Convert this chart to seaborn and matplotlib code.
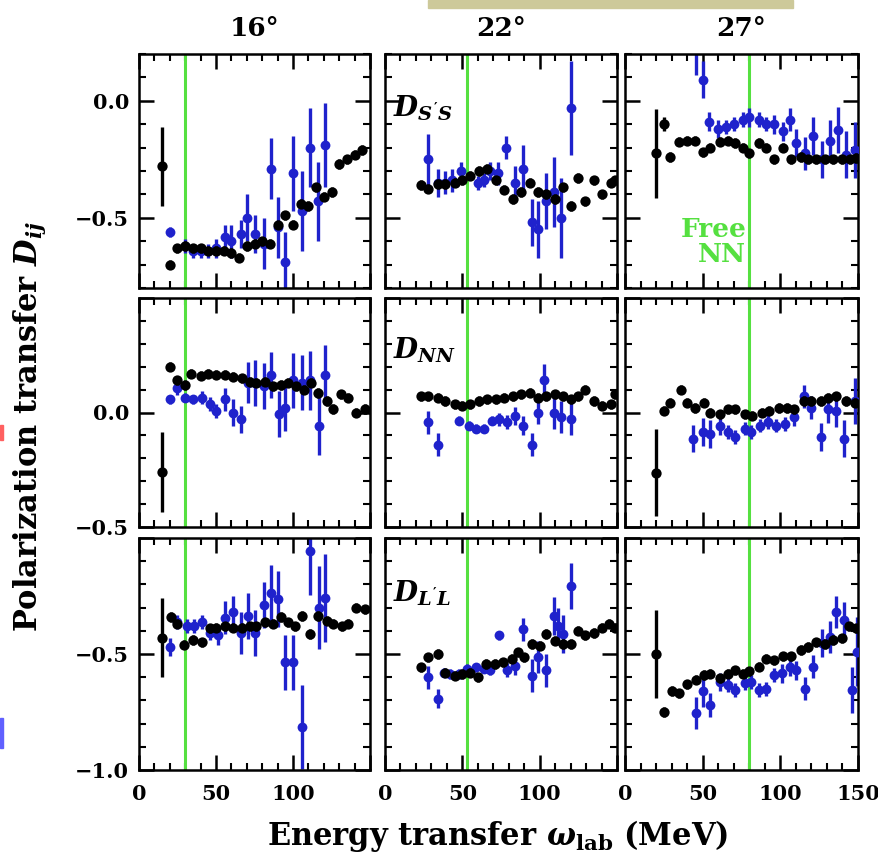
import numpy as np
import pandas as pd
import matplotlib
matplotlib.use("Agg")
import matplotlib.pyplot as plt
import seaborn as sns
from matplotlib.ticker import MultipleLocator, FixedLocator, FixedFormatter
from matplotlib.patches import Rectangle

# ---------------- data ----------------
angles = ["16°", "22°", "27°"]
observables = ["$D_{S'S}$", "$D_{NN}$", "$D_{L'L}$"]
free_nn_omega = [30, 53, 80]

# D_S'S
ss16_black_x = [15, 20, 25, 30, 35, 40, 45, 50, 55, 60, 65, 70, 75, 80, 85, 90, 95, 100, 105, 110, 115, 120, 125, 130, 135, 140, 145]
ss16_black_y = [-0.28, -0.70, -0.63, -0.62, -0.63, -0.63, -0.64, -0.64, -0.64, -0.65, -0.67, -0.62, -0.61, -0.60, -0.61, -0.53, -0.49, -0.53, -0.44, -0.45, -0.37, -0.41, -0.39, -0.27, -0.25, -0.23, -0.21]
ss16_black_e = [0.17, 0.02, 0.02, 0.02, 0.02, 0.02, 0.02, 0.02, 0.02, 0.02, 0.02, 0.02, 0.02, 0.02, 0.02, 0.02, 0.02, 0.02, 0.02, 0.02, 0.02, 0.02, 0.02, 0.02, 0.02, 0.02, 0.02]
ss16_blue_x = [20, 30, 35, 40, 45, 50, 56, 60, 66, 70, 75, 81, 86, 90, 95, 100, 106, 111, 116, 121]
ss16_blue_y = [-0.56, -0.62, -0.64, -0.64, -0.64, -0.63, -0.58, -0.60, -0.57, -0.50, -0.57, -0.61, -0.29, -0.54, -0.69, -0.31, -0.47, -0.20, -0.43, -0.19]
ss16_blue_e = [0.02, 0.03, 0.03, 0.03, 0.03, 0.04, 0.05, 0.07, 0.06, 0.10, 0.08, 0.11, 0.13, 0.13, 0.13, 0.16, 0.17, 0.17, 0.17, 0.18]

ss22_black_x = [23, 28, 34, 39, 45, 50, 55, 61, 66, 72, 77, 83, 88, 94, 99, 104, 110, 115, 120, 125, 129, 135, 140, 146, 149]
ss22_black_y = [-0.36, -0.375, -0.355, -0.355, -0.35, -0.34, -0.32, -0.30, -0.29, -0.34, -0.38, -0.42, -0.39, -0.35, -0.39, -0.40, -0.42, -0.37, -0.45, -0.33, -0.43, -0.34, -0.40, -0.35, -0.34]
ss22_black_e = [0.02, 0.02, 0.02, 0.02, 0.02, 0.02, 0.02, 0.02, 0.02, 0.02, 0.02, 0.02, 0.02, 0.02, 0.02, 0.02, 0.02, 0.02, 0.02, 0.02, 0.02, 0.02, 0.02, 0.02, 0.02]
ss22_blue_x = [28, 34, 39, 43, 49, 60, 64, 68, 73, 78, 84, 89, 95, 99, 104, 109, 114, 120]
ss22_blue_y = [-0.25, -0.35, -0.35, -0.34, -0.30, -0.35, -0.34, -0.30, -0.31, -0.20, -0.35, -0.29, -0.52, -0.55, -0.43, -0.39, -0.50, -0.03]
ss22_blue_e = [0.11, 0.06, 0.05, 0.05, 0.04, 0.03, 0.03, 0.04, 0.05, 0.05, 0.07, 0.10, 0.10, 0.12, 0.12, 0.15, 0.17, 0.20]

ss27_black_x = [20, 25, 29, 35, 40, 45, 50, 55, 61, 66, 71, 76, 80, 86, 91, 96, 102, 107, 113, 118, 123, 129, 134, 140, 145, 149]
ss27_black_y = [-0.225, -0.10, -0.24, -0.175, -0.17, -0.17, -0.22, -0.20, -0.175, -0.17, -0.18, -0.20, -0.225, -0.18, -0.20, -0.25, -0.20, -0.25, -0.24, -0.25, -0.25, -0.25, -0.25, -0.25, -0.25, -0.245]
ss27_black_e = [0.19, 0.03, 0.02, 0.02, 0.02, 0.02, 0.02, 0.02, 0.02, 0.02, 0.02, 0.02, 0.02, 0.02, 0.02, 0.02, 0.02, 0.02, 0.02, 0.02, 0.02, 0.02, 0.02, 0.02, 0.02, 0.02]
ss27_blue_x = [46, 50, 54, 60, 65, 70, 76, 80, 86, 91, 96, 102, 106, 110, 116, 121, 127, 132, 137, 142, 148]
ss27_blue_y = [0.26, 0.09, -0.09, -0.12, -0.11, -0.10, -0.08, -0.07, -0.08, -0.10, -0.10, -0.13, -0.08, -0.18, -0.225, -0.15, -0.25, -0.17, -0.125, -0.23, -0.21]
ss27_blue_e = [0.15, 0.08, 0.04, 0.04, 0.03, 0.03, 0.03, 0.04, 0.03, 0.03, 0.04, 0.04, 0.05, 0.06, 0.07, 0.08, 0.08, 0.09, 0.10, 0.10, 0.12]

# D_NN
nn16_black_x = [15, 20, 25, 30, 34, 40, 45, 50, 56, 61, 67, 72, 76, 82, 87, 92, 97, 102, 107, 112, 116, 122, 126, 131, 136, 141, 147]
nn16_black_y = [-0.26, 0.20, 0.14, 0.12, 0.17, 0.16, 0.17, 0.165, 0.165, 0.157, 0.15, 0.135, 0.13, 0.135, 0.115, 0.12, 0.13, 0.115, 0.10, 0.13, 0.085, 0.05, 0.015, 0.08, 0.065, 0.0, 0.015]
nn16_black_e = [0.175, 0.02, 0.02, 0.02, 0.02, 0.02, 0.02, 0.02, 0.02, 0.02, 0.02, 0.02, 0.02, 0.02, 0.02, 0.02, 0.02, 0.02, 0.02, 0.02, 0.02, 0.02, 0.02, 0.02, 0.02, 0.02, 0.02]
nn16_blue_x = [20, 25, 30, 35, 41, 46, 50, 56, 61, 66, 71, 75, 81, 86, 91, 95, 100, 106, 111, 117, 121]
nn16_blue_y = [0.057, 0.107, 0.065, 0.057, 0.065, 0.036, 0.007, 0.057, 0.0, -0.03, 0.13, 0.13, 0.115, 0.165, -0.007, 0.02, 0.14, 0.13, 0.14, -0.057, 0.165]
nn16_blue_e = [0.02, 0.03, 0.02, 0.02, 0.03, 0.03, 0.03, 0.05, 0.06, 0.06, 0.09, 0.10, 0.10, 0.10, 0.10, 0.10, 0.12, 0.12, 0.13, 0.13, 0.13]

nn22_black_x = [23, 28, 34, 39, 45, 50, 55, 61, 66, 72, 77, 83, 88, 94, 99, 104, 110, 115, 120, 125, 129, 135, 140, 146, 149]
nn22_black_y = [0.07, 0.07, 0.064, 0.05, 0.036, 0.03, 0.036, 0.05, 0.057, 0.057, 0.064, 0.07, 0.079, 0.086, 0.064, 0.07, 0.079, 0.07, 0.057, 0.07, 0.10, 0.05, 0.03, 0.036, 0.079]
nn22_black_e = [0.02, 0.02, 0.02, 0.02, 0.02, 0.02, 0.02, 0.02, 0.02, 0.02, 0.02, 0.02, 0.02, 0.02, 0.02, 0.02, 0.02, 0.02, 0.02, 0.02, 0.02, 0.02, 0.02, 0.02, 0.02]
nn22_blue_x = [28, 34, 48, 54, 59, 64, 69, 74, 79, 84, 89, 95, 99, 103, 109, 114, 120]
nn22_blue_y = [-0.043, -0.14, -0.036, -0.057, -0.07, -0.07, -0.036, -0.03, -0.043, -0.014, -0.057, -0.14, 0.0, 0.14, 0.0, -0.02, -0.03]
nn22_blue_e = [0.05, 0.05, 0.02, 0.02, 0.02, 0.02, 0.02, 0.03, 0.03, 0.04, 0.04, 0.05, 0.05, 0.07, 0.07, 0.07, 0.07]

nn27_black_x = [20, 25, 29, 36, 40, 45, 51, 55, 61, 66, 71, 77, 82, 88, 93, 99, 104, 109, 115, 120, 126, 131, 136, 142, 148]
nn27_black_y = [-0.264, 0.007, 0.043, 0.10, 0.043, 0.02, 0.043, 0.0, -0.007, 0.014, 0.014, -0.007, -0.014, 0.0, 0.007, 0.02, 0.02, 0.014, 0.05, 0.05, 0.05, 0.064, 0.07, 0.05, 0.043]
nn27_black_e = [0.19, 0.02, 0.02, 0.02, 0.02, 0.02, 0.02, 0.02, 0.02, 0.02, 0.02, 0.02, 0.02, 0.02, 0.02, 0.02, 0.02, 0.02, 0.02, 0.02, 0.02, 0.02, 0.02, 0.02, 0.02]
nn27_blue_x = [44, 50, 55, 61, 66, 71, 77, 81, 87, 92, 97, 103, 109, 115, 120, 126, 131, 136, 141, 148]
nn27_blue_y = [-0.114, -0.086, -0.093, -0.057, -0.086, -0.107, -0.07, -0.086, -0.057, -0.043, -0.057, -0.05, -0.02, 0.07, 0.02, -0.107, 0.014, 0.007, -0.114, 0.05]
nn27_blue_e = [0.06, 0.06, 0.06, 0.04, 0.03, 0.03, 0.03, 0.03, 0.03, 0.03, 0.03, 0.03, 0.04, 0.05, 0.05, 0.06, 0.06, 0.07, 0.08, 0.10]

# D_L'L
ll16_black_x = [15, 21, 25, 29, 35, 41, 46, 50, 56, 61, 67, 72, 76, 82, 87, 92, 97, 101, 106, 111, 116, 122, 126, 132, 136, 141, 147]
ll16_black_y = [-0.43, -0.34, -0.37, -0.46, -0.44, -0.45, -0.39, -0.386, -0.38, -0.386, -0.386, -0.38, -0.38, -0.364, -0.37, -0.34, -0.364, -0.38, -0.336, -0.414, -0.336, -0.357, -0.37, -0.38, -0.37, -0.30, -0.307]
ll16_black_e = [0.17, 0.02, 0.02, 0.02, 0.02, 0.02, 0.02, 0.02, 0.02, 0.02, 0.02, 0.02, 0.02, 0.02, 0.02, 0.02, 0.02, 0.02, 0.02, 0.02, 0.02, 0.02, 0.02, 0.02, 0.02, 0.02, 0.02]
ll16_blue_x = [20, 25, 31, 36, 41, 46, 51, 56, 61, 66, 71, 75, 81, 86, 90, 95, 100, 106, 111, 117, 121]
ll16_blue_y = [-0.47, -0.364, -0.38, -0.38, -0.364, -0.41, -0.42, -0.343, -0.32, -0.41, -0.336, -0.41, -0.29, -0.236, -0.264, -0.536, -0.536, -0.814, -0.057, -0.30, -0.257]
ll16_blue_e = [0.04, 0.03, 0.03, 0.03, 0.03, 0.03, 0.04, 0.07, 0.07, 0.09, 0.10, 0.10, 0.10, 0.12, 0.12, 0.12, 0.12, 0.18, 0.19, 0.18, 0.19]

ll22_black_x = [23, 28, 34, 39, 45, 50, 55, 60, 65, 71, 76, 82, 86, 90, 95, 100, 104, 110, 115, 120, 125, 129, 135, 140, 145, 149]
ll22_black_y = [-0.557, -0.514, -0.50, -0.58, -0.593, -0.586, -0.58, -0.60, -0.543, -0.543, -0.536, -0.52, -0.493, -0.514, -0.457, -0.464, -0.414, -0.443, -0.457, -0.457, -0.40, -0.42, -0.41, -0.386, -0.37, -0.386]
ll22_black_e = [0.02, 0.02, 0.02, 0.02, 0.02, 0.02, 0.02, 0.02, 0.02, 0.02, 0.02, 0.02, 0.02, 0.02, 0.02, 0.02, 0.02, 0.02, 0.02, 0.02, 0.02, 0.02, 0.02, 0.02, 0.02, 0.02]
ll22_blue_x = [28, 34, 38, 42, 48, 53, 59, 64, 68, 74, 79, 84, 89, 95, 99, 104, 109, 112, 115, 120]
ll22_blue_y = [-0.60, -0.693, -0.58, -0.586, -0.586, -0.564, -0.557, -0.564, -0.571, -0.42, -0.57, -0.55, -0.393, -0.593, -0.514, -0.571, -0.336, -0.38, -0.414, -0.207]
ll22_blue_e = [0.05, 0.04, 0.02, 0.02, 0.02, 0.02, 0.02, 0.02, 0.02, 0.02, 0.03, 0.04, 0.05, 0.07, 0.07, 0.07, 0.08, 0.08, 0.08, 0.10]

ll27_black_x = [20, 25, 30, 35, 40, 46, 51, 55, 61, 66, 71, 76, 80, 86, 91, 96, 102, 107, 113, 118, 123, 129, 134, 140, 144, 149]
ll27_black_y = [-0.50, -0.75, -0.66, -0.67, -0.63, -0.61, -0.59, -0.585, -0.605, -0.585, -0.57, -0.585, -0.575, -0.554, -0.52, -0.527, -0.51, -0.51, -0.483, -0.47, -0.45, -0.457, -0.44, -0.433, -0.38, -0.39]
ll27_black_e = [0.19, 0.02, 0.02, 0.02, 0.02, 0.02, 0.02, 0.02, 0.02, 0.02, 0.02, 0.02, 0.02, 0.02, 0.02, 0.02, 0.02, 0.02, 0.02, 0.02, 0.02, 0.02, 0.02, 0.02, 0.02, 0.02]
ll27_blue_x = [46, 50, 55, 61, 66, 71, 77, 81, 86, 91, 96, 101, 106, 110, 116, 121, 127, 132, 136, 141, 146, 149.5]
ll27_blue_y = [-0.755, -0.66, -0.72, -0.62, -0.635, -0.655, -0.625, -0.62, -0.655, -0.65, -0.59, -0.583, -0.554, -0.57, -0.65, -0.554, -0.454, -0.426, -0.32, -0.354, -0.655, -0.49]
ll27_blue_e = [0.07, 0.07, 0.05, 0.04, 0.03, 0.03, 0.03, 0.03, 0.03, 0.03, 0.03, 0.04, 0.04, 0.04, 0.05, 0.05, 0.06, 0.07, 0.07, 0.08, 0.10, 0.15]

panels = [
    [(ss16_black_x, ss16_black_y, ss16_black_e, ss16_blue_x, ss16_blue_y, ss16_blue_e),
     (ss22_black_x, ss22_black_y, ss22_black_e, ss22_blue_x, ss22_blue_y, ss22_blue_e),
     (ss27_black_x, ss27_black_y, ss27_black_e, ss27_blue_x, ss27_blue_y, ss27_blue_e)],
    [(nn16_black_x, nn16_black_y, nn16_black_e, nn16_blue_x, nn16_blue_y, nn16_blue_e),
     (nn22_black_x, nn22_black_y, nn22_black_e, nn22_blue_x, nn22_blue_y, nn22_blue_e),
     (nn27_black_x, nn27_black_y, nn27_black_e, nn27_blue_x, nn27_blue_y, nn27_blue_e)],
    [(ll16_black_x, ll16_black_y, ll16_black_e, ll16_blue_x, ll16_blue_y, ll16_blue_e),
     (ll22_black_x, ll22_black_y, ll22_black_e, ll22_blue_x, ll22_blue_y, ll22_blue_e),
     (ll27_black_x, ll27_black_y, ll27_black_e, ll27_blue_x, ll27_blue_y, ll27_blue_e)],
]

row_ylims = [(-0.8, 0.2), (-0.5, 0.5), (-1.0, 0.0)]
row_yticks = [[-0.5, 0.0], [-0.5, 0.0, 0.5], [-1.0, -0.5, 0.0]]
row_yticklabels = [["\u22120.5", "0.0"], ["\u22120.5", "0.0", ""], ["\u22121.0", "\u22120.5", ""]]
col_xticklabels = [["0", "50", "100", ""], ["0", "50", "100", ""], ["0", "50", "100", "150"]]
label_y = [-0.03, 0.27, -0.24]

# ---------------- style ----------------
sns.set_style("ticks")
plt.rcParams["font.family"] = ["DejaVu Serif"]
plt.rcParams["font.weight"] = "bold"
plt.rcParams["mathtext.fontset"] = "custom"
plt.rcParams["mathtext.rm"] = "DejaVu Serif:bold"
plt.rcParams["mathtext.it"] = "DejaVu Serif:italic:bold"
plt.rcParams["mathtext.bf"] = "DejaVu Serif:bold"
plt.rcParams["text.color"] = "black"
plt.rcParams["axes.labelcolor"] = "black"
plt.rcParams["xtick.color"] = "black"
plt.rcParams["ytick.color"] = "black"

BLACK = "#000000"
BLUE = "#1f22cc"
GREEN = "#55e040"

W, H = 879, 859
fig = plt.figure(figsize=(W / 100, H / 100), dpi=100)

col_left = [139, 385, 625]
col_w = [231, 232, 233]
row_top = [54, 298, 538]
row_h = [234, 229, 232]

for r in range(3):
    for c in range(3):
        ax = fig.add_axes([col_left[c] / W, 1 - (row_top[r] + row_h[r]) / H, col_w[c] / W, row_h[r] / H])
        bx, by, be, ux, uy, ue = panels[r][c]
        dfb = pd.DataFrame({"omega": bx, "D": by, "err": be, "set": "black"})
        dfu = pd.DataFrame({"omega": ux, "D": uy, "err": ue, "set": "blue"})

        ax.axvline(free_nn_omega[c], color=GREEN, lw=2.2, zorder=1)

        ax.errorbar(dfu["omega"], dfu["D"], yerr=dfu["err"], fmt="none", ecolor=BLUE, elinewidth=2.4, capsize=0, zorder=2)
        sns.scatterplot(data=dfu, x="omega", y="D", color=BLUE, s=50, linewidth=0, ax=ax, zorder=3, legend=False)
        ax.errorbar(dfb["omega"], dfb["D"], yerr=dfb["err"], fmt="none", ecolor=BLACK, elinewidth=2.4, capsize=0, zorder=4)
        sns.scatterplot(data=dfb, x="omega", y="D", color=BLACK, s=55, linewidth=0, ax=ax, zorder=5, legend=False)

        ax.set_xlim(0, 150)
        ax.set_ylim(*row_ylims[r])
        ax.set_xlabel("")
        ax.set_ylabel("")

        ax.xaxis.set_major_locator(FixedLocator([0, 50, 100, 150]))
        ax.xaxis.set_minor_locator(MultipleLocator(10))
        ax.yaxis.set_major_locator(FixedLocator(row_yticks[r]))
        ax.yaxis.set_minor_locator(MultipleLocator(0.1))
        ax.tick_params(which="both", direction="in", top=True, right=True, bottom=True, left=True, color="black")
        ax.tick_params(which="major", length=11, width=1.8)
        ax.tick_params(which="minor", length=5, width=1.5)
        ax.tick_params(axis="y", pad=7, labelsize=15, labelcolor="black")
        ax.tick_params(axis="x", pad=10, labelsize=15, labelcolor="black")

        if c == 0:
            ax.yaxis.set_major_formatter(FixedFormatter(row_yticklabels[r]))
        else:
            ax.set_yticklabels([])
        if r == 2:
            ax.xaxis.set_major_formatter(FixedFormatter(col_xticklabels[c]))
        else:
            ax.set_xticklabels([])

        for s in ax.spines.values():
            s.set_linewidth(1.8)
            s.set_color("black")

        if c == 1:
            ax.text(5, label_y[r], observables[r], fontsize=20, color="black", ha="left", va="center", zorder=6)
        if r == 0 and c == 2:
            ax.text(78, -0.71, "Free\nNN", color=GREEN, fontsize=19, fontweight="bold",
                    ha="right", va="bottom", multialignment="right", linespacing=1.0, zorder=6)

# column titles
for c in range(3):
    fig.text((col_left[c] + col_w[c] / 2) / W, 1 - 28 / H, angles[c], ha="center", va="center",
             fontsize=19, fontweight="bold", color="black")

fig.text(498 / W, 1 - 836 / H, r"Energy transfer $\omega_{\rm lab}$ (MeV)", ha="center", va="center",
         fontsize=22, fontweight="bold", color="black")
fig.text(30 / W, 1 - 427 / H, r"Polarization transfer $D_{ij}$", ha="center", va="center", rotation=90,
         fontsize=22, fontweight="bold", color="black")

# cropping artefacts of the reference image
fig.patches.append(Rectangle((428 / W, 1 - 8 / H), 365 / W, 8 / H, transform=fig.transFigure, color="#cdc99a", zorder=0))
fig.patches.append(Rectangle((0, 1 - 440 / H), 3 / W, 15 / H, transform=fig.transFigure, color="#ff6060", zorder=0))
fig.patches.append(Rectangle((0, 1 - 748 / H), 3 / W, 30 / H, transform=fig.transFigure, color="#6060ff", zorder=0))

fig.savefig("out.png", dpi=100)
